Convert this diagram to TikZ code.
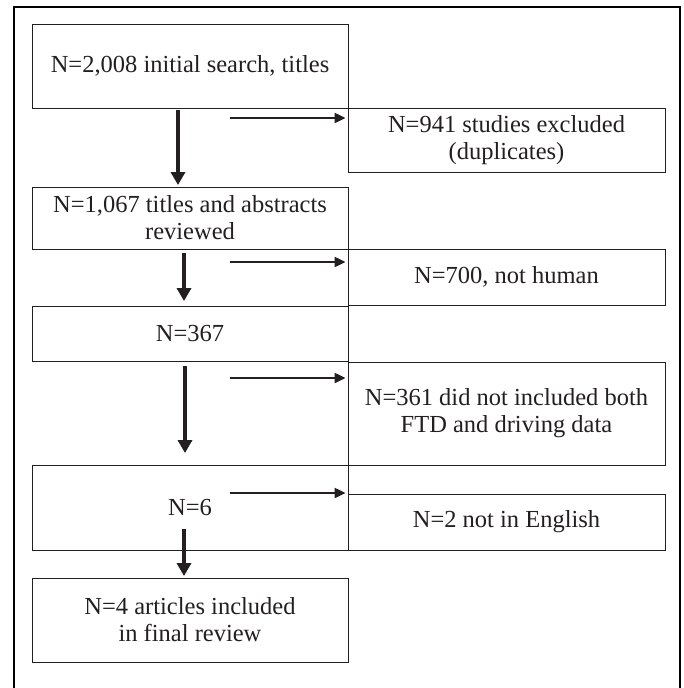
\documentclass[tikz,border=0pt]{standalone}
\usepackage{fontspec}
\setmainfont{Liberation Serif}
\usetikzlibrary{arrows.meta}
\definecolor{ink}{HTML}{231F20}
\tikzset{
  box/.style={draw=ink, line width=0.9pt, rectangle, inner sep=0pt, align=center,
    font=\fontsize{24.5}{27}\selectfont, text=ink},
  lbox/.style={box, minimum width=316pt},
  rbox/.style={box, minimum width=317pt},
  varrow/.style={draw=ink, line width=3.8pt, -{Triangle[length=13pt,width=14pt]}, shorten >=1.5pt},
  harrow/.style={draw=ink, line width=2.2pt, -{Triangle[length=11pt,width=10pt]}, shorten >=2pt},
  frame/.style={draw=black, line width=2.6pt}
}
\begin{document}
\begin{tikzpicture}[x=1pt,y=-1pt]
\useasboundingbox (0,0) rectangle (684,688);
\draw[frame] (14,690) -- (14,7) -- (680,7) -- (680,690);

\node[lbox, minimum height=84pt] (b1) at (190,66) {N=2,008 initial search, titles};
\node[rbox, minimum height=64pt] (e1) at (506.5,140) {N=941 studies excluded\\(duplicates)};
\node[lbox, minimum height=62pt] (b2) at (190,218) {N=1,067 titles and abstracts\\reviewed};
\node[rbox, minimum height=56pt] (e2) at (506.5,277) {N=700, not human};
\node[lbox, minimum height=55pt] (b3) at (190,333.5) {N=367};
\node[rbox, minimum height=103pt] (e3) at (506.5,413.5) {N=361 did not included both\\FTD and driving data};
\node[lbox, minimum height=85pt] (b4) at (190,507.5) {N=6};
\node[rbox, minimum height=56pt] (e4) at (506.5,522) {N=2 not in English};
\node[lbox, minimum height=84pt] (b5) at (190,620) {N=4 articles included\\in final review};

\coordinate (v1) at (178,110);
\coordinate (v2) at (184,253);
\coordinate (v3) at (185,366);
\coordinate (v4) at (184,529);
\draw[varrow] (v1) -- (v1 |- b2.north);
\draw[varrow] (v2) -- ([yshift=3pt]v2 |- b3.north);
\draw[varrow] (v3) -- ([yshift=10pt]v3 |- b4.north);
\draw[varrow] (v4) -- (v4 |- b5.north);

\coordinate (h1) at (230,118);
\coordinate (h2) at (230,262);
\coordinate (h3) at (230,378);
\coordinate (h4) at (230,493);
\draw[harrow] (h1) -- (h1 -| e1.west);
\draw[harrow] (h2) -- (h2 -| e2.west);
\draw[harrow] (h3) -- (h3 -| e3.west);
\draw[harrow] (h4) -- (h4 -| e4.west);
\end{tikzpicture}
\end{document}
